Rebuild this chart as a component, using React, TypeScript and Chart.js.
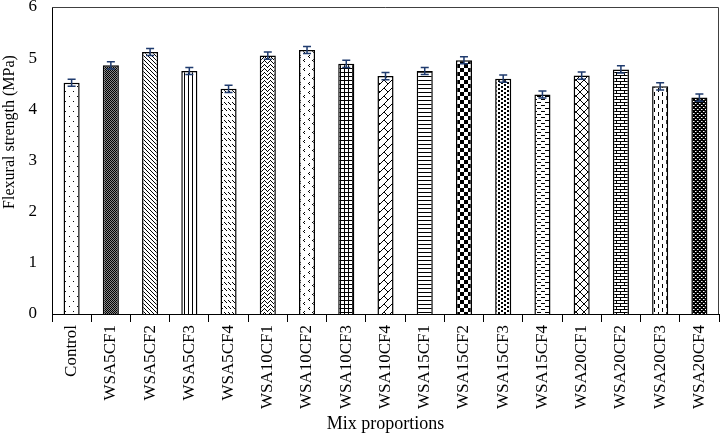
import React, { useEffect, useRef } from "react";
import { Chart, registerables } from "chart.js";

Chart.register(...registerables);

const categories = [
  "Control", "WSA5CF1", "WSA5CF2", "WSA5CF3", "WSA5CF4",
  "WSA10CF1", "WSA10CF2", "WSA10CF3", "WSA10CF4",
  "WSA15CF1", "WSA15CF2", "WSA15CF3", "WSA15CF4",
  "WSA20CF1", "WSA20CF2", "WSA20CF3", "WSA20CF4",
];
const strength = [4.52, 4.86, 5.12, 4.75, 4.4, 5.05, 5.16, 4.89, 4.65, 4.75, 4.96, 4.6, 4.29, 4.66, 4.78, 4.45, 4.23];
const errors = [0.07, 0.07, 0.07, 0.07, 0.07, 0.07, 0.07, 0.07, 0.07, 0.07, 0.07, 0.07, 0.07, 0.07, 0.07, 0.07, 0.07];
const yTicks = [0, 1, 2, 3, 4, 5, 6];
const yTitle = "Flexural strength (MPa)";
const xTitle = "Mix proportions";

type Draw = (g: CanvasRenderingContext2D) => void;

function makePattern(ctx: CanvasRenderingContext2D, w: number, h: number, draw: Draw, bg = "#fff") {
  const c = document.createElement("canvas");
  c.width = w;
  c.height = h;
  const g = c.getContext("2d")!;
  g.fillStyle = bg;
  g.fillRect(0, 0, w, h);
  g.fillStyle = "#000";
  g.strokeStyle = "#000";
  g.lineWidth = 1;
  draw(g);
  return ctx.createPattern(c, "repeat")!;
}

function px(g: CanvasRenderingContext2D, pts: number[][]) {
  pts.forEach(([x, y]) => g.fillRect(x, y, 1, 1));
}

function buildPatterns(ctx: CanvasRenderingContext2D) {
  return [
    makePattern(ctx, 8, 10, (g) => px(g, [[1, 1], [5, 6]])),
    makePattern(ctx, 2, 2, (g) => px(g, [[0, 0], [1, 1]]), "#888"),
    makePattern(ctx, 4, 4, (g) => px(g, [[0, 0], [1, 1], [2, 2], [3, 3]])),
    makePattern(ctx, 4, 1, (g) => g.fillRect(0, 0, 1, 1)),
    makePattern(ctx, 4, 6, (g) => px(g, [[0, 0], [1, 1], [2, 2]])),
    makePattern(ctx, 6, 4, (g) => px(g, [[0, 0], [1, 1], [2, 2], [3, 3], [4, 2], [5, 1]])),
    makePattern(ctx, 9, 9, (g) => px(g, [[3, 1], [2, 2], [3, 3], [7, 5], [6, 6], [7, 7]])),
    makePattern(ctx, 4, 4, (g) => { g.fillRect(0, 0, 4, 1); g.fillRect(0, 0, 1, 4); }),
    makePattern(ctx, 8, 8, (g) => px(g, [[7, 0], [6, 1], [5, 2], [4, 3], [3, 4], [2, 5], [1, 6], [0, 7], [0, 0], [1, 1], [2, 2], [3, 3]])),
    makePattern(ctx, 1, 4, (g) => g.fillRect(0, 0, 1, 1)),
    makePattern(ctx, 8, 8, (g) => { g.fillRect(0, 0, 4, 4); g.fillRect(4, 4, 4, 4); }),
    makePattern(ctx, 6, 4, (g) => { g.fillRect(0, 0, 2, 2); g.fillRect(3, 2, 2, 2); }),
    makePattern(ctx, 8, 6, (g) => { g.fillRect(1, 0, 4, 1); g.fillRect(5, 3, 3, 1); g.fillRect(0, 3, 1, 1); }),
    makePattern(ctx, 8, 8, (g) => {
      for (let i = 0; i < 8; i++) { g.fillRect(i, i, 1, 1); g.fillRect(7 - i, i, 1, 1); }
    }),
    makePattern(ctx, 8, 6, (g) => {
      g.fillRect(0, 0, 8, 1); g.fillRect(0, 3, 8, 1); g.fillRect(0, 0, 1, 3); g.fillRect(4, 3, 1, 3);
    }),
    makePattern(ctx, 8, 8, (g) => { g.fillRect(2, 0, 1, 4); g.fillRect(6, 4, 1, 4); }),
    makePattern(ctx, 4, 4, (g) => { g.fillStyle = "#fff"; px(g, [[1, 1], [3, 3]]); g.fillStyle = "#888"; px(g, [[2, 1], [0, 3]]); }, "#000"),
  ];
}

const FONT = "'Liberation Serif', 'Times New Roman', serif";

const errorBarPlugin = {
  id: "errorBars",
  afterDatasetsDraw(chart: any) {
    const { ctx } = chart;
    const meta = chart.getDatasetMeta(0);
    const yScale = chart.scales.y;
    ctx.save();
    ctx.strokeStyle = "#1F3B6E";
    ctx.lineWidth = 1.5;
    meta.data.forEach((bar: any, i: number) => {
      const v = strength[i];
      const e = errors[i];
      const x = bar.x;
      const yt = yScale.getPixelForValue(v + e);
      const yb = yScale.getPixelForValue(v - e);
      ctx.beginPath();
      ctx.moveTo(x, yt);
      ctx.lineTo(x, yb);
      ctx.moveTo(x - 4, yt);
      ctx.lineTo(x + 4, yt);
      ctx.moveTo(x - 4, yb);
      ctx.lineTo(x + 4, yb);
      ctx.stroke();
    });
    ctx.restore();
  },
};

const framePlugin = {
  id: "frame",
  afterDraw(chart: any) {
    const { ctx, chartArea } = chart;
    ctx.save();
    ctx.strokeStyle = "#404040";
    ctx.lineWidth = 1;
    ctx.beginPath();
    ctx.moveTo(chartArea.left, chartArea.top + 0.5);
    ctx.lineTo(chartArea.right - 0.5, chartArea.top + 0.5);
    ctx.lineTo(chartArea.right - 0.5, chartArea.bottom);
    ctx.stroke();
    // y-axis title (placed like the original, above the plot's vertical middle)
    ctx.translate(10, 132);
    ctx.rotate(-Math.PI / 2);
    ctx.fillStyle = "#000";
    ctx.font = `16px ${FONT}`;
    ctx.textAlign = "center";
    ctx.textBaseline = "middle";
    ctx.fillText(yTitle, 0, 0);
    ctx.restore();
  },
};

export default function App() {
  const ref = useRef<HTMLCanvasElement>(null);

  useEffect(() => {
    const canvas = ref.current!;
    const ctx = canvas.getContext("2d")!;
    const patterns = buildPatterns(ctx);
    const chart = new Chart(canvas, {
      type: "bar",
      data: {
        labels: categories,
        datasets: [
          {
            data: strength,
            backgroundColor: patterns,
            borderColor: "#000",
            borderWidth: 1.5,
            barPercentage: 0.41,
            categoryPercentage: 1,
          },
        ],
      },
      options: {
        responsive: false,
        animation: false,
        devicePixelRatio: 1,
        layout: { padding: { left: 0, right: 2, top: 7, bottom: 0 } },
        plugins: { legend: { display: false }, tooltip: { enabled: false } },
        scales: {
          x: {
            grid: {
              display: true,
              drawOnChartArea: false,
              drawTicks: true,
              tickLength: 8,
              color: "#000",
              offset: true,
            },
            border: { display: true, color: "#000", width: 1 },
            ticks: {
              color: "#000",
              font: { family: FONT, size: 17 },
              padding: 3,
              minRotation: 90,
              maxRotation: 90,
              autoSkip: false,
            },
            title: {
              display: true,
              text: xTitle,
              color: "#000",
              font: { family: FONT, size: 18, lineHeight: 1 },
              padding: { top: 0, bottom: 0 },
            },
            afterFit: (s: any) => {
              s.height = 119;
              s.paddingLeft = 0;
              s.paddingRight = 0;
            },
          },
          y: {
            min: 0,
            max: 6,
            afterBuildTicks: (s: any) => {
              s.ticks = yTicks.map((v) => ({ value: v }));
            },
            grid: { display: false, drawTicks: false },
            border: { display: true, color: "#000", width: 1 },
            ticks: {
              color: "#000",
              font: { family: FONT, size: 17 },
              padding: 15,
            },
            title: { display: false },
            afterFit: (s: any) => {
              s.width = 52;
              s.paddingTop = 0;
              s.paddingBottom = 0;
            },
          },
        },
      },
      plugins: [errorBarPlugin, framePlugin],
    } as any);
    return () => chart.destroy();
  }, []);

  return (
    <div style={{ position: "absolute", left: 0, top: 0, width: 721, height: 433, background: "#fff" }}>
      <canvas ref={ref} width={721} height={433} style={{ display: "block" }} />
    </div>
  );
}
